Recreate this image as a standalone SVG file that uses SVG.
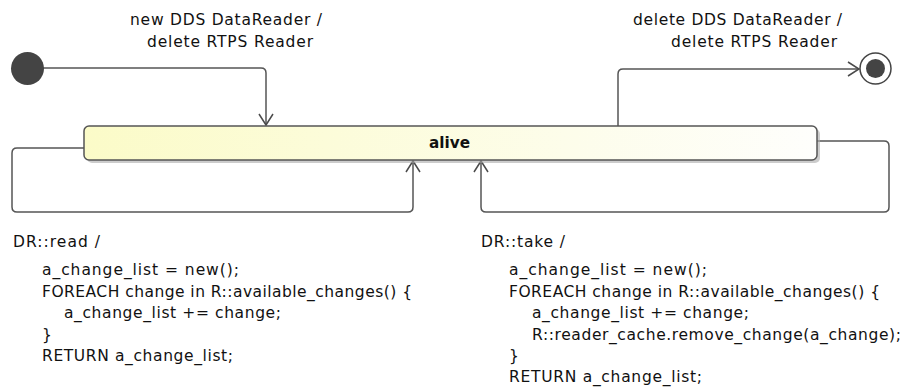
<svg xmlns="http://www.w3.org/2000/svg" width="905" height="391" viewBox="0 0 905 391">
<defs>
<linearGradient id="g" x1="0" y1="0" x2="1" y2="0">
<stop offset="0" stop-color="#fbfbc8"/>
<stop offset="1" stop-color="#fefefc"/>
</linearGradient>
<marker id="arr" markerWidth="16" markerHeight="16" refX="12" refY="8" orient="auto" markerUnits="userSpaceOnUse">
<path d="M1,1 L12,8 L1,15" fill="none" stroke="#4a4a4a" stroke-width="1.5"/>
</marker>
<style>
.c{fill:none;stroke:#555;stroke-width:1.5}
.t{font-family:"DejaVu Sans",sans-serif;font-size:15.5px;fill:#111}
.l{font-family:"DejaVu Sans",sans-serif;font-size:15.5px;fill:#111}
.b{font-family:"DejaVu Sans",sans-serif;font-size:15.5px;font-weight:bold;fill:#111}
</style>
</defs>
<rect width="905" height="391" fill="#fff"/>
<g id="connectors">
<path class="c" d="M43,68 H261 Q266,68 266,73 V125" marker-end="url(#arr)"/>
<path class="c" d="M618,126 V74 Q618,69 623,69 H859" marker-end="url(#arr)"/>
<path class="c" d="M84,148 H17 Q12,148 12,153 V207 Q12,212 17,212 H408 Q413,212 413,207 V161" marker-end="url(#arr)"/>
<path class="c" d="M817,141 H884 Q889,141 889,146 V207 Q889,212 884,212 H486 Q481,212 481,207 V161" marker-end="url(#arr)"/>
</g>
<g id="initial">
<circle cx="27.5" cy="68.5" r="16.5" fill="#444"/>
</g>
<g id="final">
<circle cx="875.5" cy="68.5" r="15.5" fill="#fff" stroke="#444" stroke-width="1.5"/>
<circle cx="875.5" cy="68.5" r="9.5" fill="#444"/>
</g>
<g id="alive">
<rect x="87" y="129" width="733" height="34" rx="5" fill="#aaa" opacity="0.6"/>
<rect x="84" y="126" width="733" height="34" rx="5" fill="url(#g)" stroke="#555" stroke-width="1.5"/>
<text class="b" x="429" y="148" textLength="41" lengthAdjust="spacingAndGlyphs">alive</text>
</g>
<g id="labels">
<text class="l" x="130" y="25" textLength="192" lengthAdjust="spacing">new DDS DataReader /</text>
<text class="l" x="147" y="47" textLength="166" lengthAdjust="spacing">delete RTPS Reader</text>
<text class="l" x="633" y="25" textLength="209" lengthAdjust="spacing">delete DDS DataReader /</text>
<text class="l" x="671" y="47" textLength="166" lengthAdjust="spacing">delete RTPS Reader</text>
<text class="t" x="13" y="247" textLength="87" lengthAdjust="spacing">DR::read /</text>
<text class="t" x="42" y="275" textLength="197" lengthAdjust="spacing">a_change_list = new();</text>
<text class="t" x="42" y="297" textLength="370" lengthAdjust="spacing">FOREACH change in R::available_changes() {</text>
<text class="t" x="64" y="318" textLength="217" lengthAdjust="spacing">a_change_list += change;</text>
<text class="t" x="42" y="340">}</text>
<text class="t" x="42" y="361" textLength="191" lengthAdjust="spacing">RETURN a_change_list;</text>
<text class="t" x="481" y="247" textLength="84" lengthAdjust="spacing">DR::take /</text>
<text class="t" x="509" y="275" textLength="198" lengthAdjust="spacing">a_change_list = new();</text>
<text class="t" x="509" y="297" textLength="371" lengthAdjust="spacing">FOREACH change in R::available_changes() {</text>
<text class="t" x="532" y="318" textLength="217" lengthAdjust="spacing">a_change_list += change;</text>
<text class="t" x="532" y="340" textLength="369" lengthAdjust="spacing">R::reader_cache.remove_change(a_change);</text>
<text class="t" x="509" y="361">}</text>
<text class="t" x="509" y="382" textLength="193" lengthAdjust="spacing">RETURN a_change_list;</text>
</g>
</svg>
